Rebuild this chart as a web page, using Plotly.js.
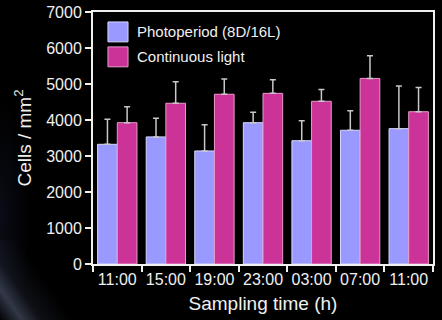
<!DOCTYPE html>
<html>
<head>
<meta charset="utf-8">
<script src="https://cdn.plot.ly/plotly-3.0.1.min.js"></script>
<style>
  html, body { margin: 0; padding: 0; }
  body {
    width: 442px; height: 320px; overflow: hidden;
    background:
      linear-gradient(55deg, rgba(0,0,0,0) 0px, rgba(70,78,100,0.7) 18px, rgba(40,45,62,0.35) 34px, rgba(0,0,0,0) 60px) 0px 240px / 80px 80px no-repeat,
      radial-gradient(ellipse 30px 120px at 0px 215px, rgba(25,30,55,0.4), rgba(0,0,0,0) 100%),
      #000;
  }
  #chart { width: 442px; height: 320px; }
</style>
</head>
<body>
<div id="chart"></div>
<script>
// ---- data ----
var timeLabels = ["11:00", "15:00", "19:00", "23:00", "03:00", "07:00", "11:00"];
var photoperiodMean = [3325, 3530, 3140, 3925, 3425, 3715, 3760];
var photoperiodErr  = [695, 520, 730, 290, 555, 545, 1185];
var continuousMean  = [3925, 4465, 4715, 4740, 4520, 5155, 4230];
var continuousErr   = [445, 600, 425, 380, 325, 630, 670];
var seriesNames = ["Photoperiod (8D/16L)", "Continuous light"];

var xIdx = timeLabels.map(function (_, i) { return i; });
var zeros = xIdx.map(function () { return 0; });

var FONT = "Liberation Sans, Arial, Helvetica, sans-serif";
var blue = "#9999FF", pink = "#CC3399";

var traces = [
  {
    type: "bar", name: seriesNames[0], x: xIdx, y: photoperiodMean,
    marker: { color: blue, line: { color: "#d6d6ff", width: 1 } },
    error_y: { type: "data", symmetric: false, array: photoperiodErr, arrayminus: zeros,
               color: "#c8c8c8", thickness: 1.5, width: 3 },
    showlegend: false
  },
  {
    type: "bar", name: seriesNames[1], x: xIdx, y: continuousMean,
    marker: { color: pink, line: { color: "#e79bcb", width: 1 } },
    error_y: { type: "data", symmetric: false, array: continuousErr, arrayminus: zeros,
               color: "#c8c8c8", thickness: 1.5, width: 3 },
    showlegend: false
  }
];

// legend drawn as paper-anchored swatches + text
var legendColors = [blue, pink];
var legendBorders = ["#d6d6ff", "#e79bcb"];
var shapes = [], annotations = [];
var rowY = [0.921, 0.822];
seriesNames.forEach(function (name, i) {
  shapes.push({
    type: "rect", xref: "paper", yref: "paper",
    x0: 0.044, x1: 0.103, y0: rowY[i] - 0.0395, y1: rowY[i] + 0.0395,
    fillcolor: legendColors[i], line: { color: legendBorders[i], width: 1 }
  });
  annotations.push({
    xref: "paper", yref: "paper", x: 0.124, y: rowY[i],
    xanchor: "left", yanchor: "middle", showarrow: false,
    text: name, font: { family: FONT, size: 15, color: "#f0f0f0" }
  });
});

var layout = {
  width: 442, height: 320,
  margin: { l: 93, r: 9, t: 12, b: 56, pad: 0 },
  paper_bgcolor: "rgba(0,0,0,0)",
  plot_bgcolor: "#000000",
  barmode: "group", bargap: 0.19, bargroupgap: 0,
  font: { family: FONT, size: 16, color: "#f0f0f0" },
  xaxis: {
    range: [-0.5, 6.5], tickmode: "array", tickvals: xIdx, ticktext: timeLabels,
    ticks: "", showgrid: false, zeroline: false,
    showline: true, linecolor: "#f0f0f0", linewidth: 2, mirror: true,
    minor: { tick0: 0.5, dtick: 1, ticks: "outside", ticklen: 6, tickwidth: 2, tickcolor: "#f0f0f0", showgrid: false },
    tickfont: { family: FONT, size: 16, color: "#f0f0f0" },
    title: { text: "Sampling time (h)", font: { family: FONT, size: 19, color: "#f0f0f0" }, standoff: 9 },
    fixedrange: true
  },
  yaxis: {
    range: [0, 7000], dtick: 1000, tick0: 0,
    ticks: "outside", ticklen: 6, tickwidth: 2, tickcolor: "#f0f0f0",
    showgrid: false, zeroline: false,
    showline: true, linecolor: "#f0f0f0", linewidth: 2, mirror: true,
    tickfont: { family: FONT, size: 16, color: "#f0f0f0" },
    title: { text: "Cells / mm<sup>2</sup>", font: { family: FONT, size: 19, color: "#f0f0f0" }, standoff: 10 },
    fixedrange: true
  },
  shapes: shapes,
  annotations: annotations,
  showlegend: false
};

Plotly.newPlot("chart", traces, layout, { displayModeBar: false, staticPlot: true });
</script>
</body>
</html>
